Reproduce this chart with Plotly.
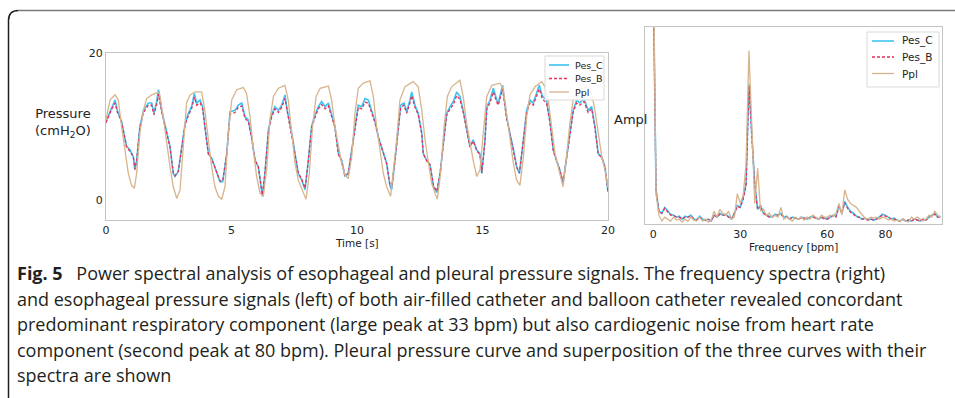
import plotly.graph_objects as go

# ---------------- data: time signals ----------------
pes_t = [0, 0.23, 0.36, 0.45, 0.62, 0.82, 0.96, 1.09, 1.15, 1.22,
         1.35, 1.49, 1.69, 1.82, 1.91, 2.02, 2.09, 2.22, 2.42, 2.55,
         2.68, 2.75, 2.88, 3.01, 3.15, 3.28, 3.41, 3.52, 3.61, 3.75,
         3.85, 3.94, 4.08, 4.21, 4.34, 4.54, 4.65, 4.81, 4.94, 5.14,
         5.27, 5.41, 5.54, 5.67, 5.80, 5.94, 6.07, 6.23, 6.33, 6.47,
         6.60, 6.73, 6.87, 7.00, 7.13, 7.22, 7.40, 7.53, 7.66, 7.80,
         7.93, 8.06, 8.19, 8.33, 8.46, 8.59, 8.73, 8.86, 8.99, 9.12,
         9.26, 9.39, 9.52, 9.65, 9.79, 9.92, 10.05, 10.19, 10.32, 10.45,
         10.58, 10.72, 10.85, 11.05, 11.18, 11.31, 11.38, 11.51, 11.65, 11.74,
         11.87, 11.98, 12.11, 12.18, 12.31, 12.44, 12.58, 12.64, 12.78, 12.91,
         13.05, 13.18, 13.31, 13.44, 13.57, 13.71, 13.84, 13.97, 14.10, 14.23,
         14.37, 14.50, 14.63, 14.77, 14.90, 14.97, 15.10, 15.17, 15.30, 15.43,
         15.57, 15.63, 15.80, 15.96, 16.09, 16.23, 16.36, 16.47, 16.60, 16.76,
         16.89, 17.02, 17.15, 17.26, 17.39, 17.55, 17.68, 17.82, 17.95, 18.08,
         18.21, 18.35, 18.48, 18.61, 18.75, 18.88, 19.04, 19.21, 19.35, 19.48,
         19.61, 19.75, 19.88, 20.0]

pes_c = [10.7, 12.7, 13.6, 12.2, 10.7, 7.3, 6.8, 5.9, 4.1, 5.4,
         10.0, 12.2, 13.2, 13.2, 11.8, 13.4, 15.0, 12.2, 9.1, 7.3,
         3.6, 3.2, 3.9, 6.8, 10.4, 11.8, 12.7, 14.5, 13.2, 13.6,
         12.7, 10.0, 6.3, 5.7, 4.5, 2.5, 2.5, 6.3, 12.0, 12.2,
         12.9, 13.2, 11.3, 10.9, 8.6, 5.4, 4.5, 0.5, 3.6, 9.5,
         11.6, 12.7, 12.2, 12.9, 14.3, 12.2, 9.1, 6.3, 3.6, 2.7,
         1.4, 5.4, 10.0, 11.6, 12.7, 13.4, 12.7, 13.2, 11.6, 10.0,
         6.3, 5.4, 3.2, 3.6, 6.8, 10.2, 12.9, 12.7, 13.8, 13.6,
         12.2, 10.7, 8.6, 6.4, 5.0, 2.0, 1.4, 5.4, 10.0, 12.9,
         13.2, 12.0, 13.6, 14.7, 12.9, 11.8, 9.1, 6.3, 5.4, 4.8,
         1.8, 1.0, 3.6, 7.7, 11.8, 12.7, 13.4, 14.7, 14.1, 12.2,
         9.5, 7.3, 8.2, 6.8, 6.3, 3.6, 8.2, 12.7, 13.6, 15.2,
         13.6, 13.2, 15.6, 11.3, 9.1, 7.0, 4.5, 3.6, 7.3, 12.2,
         13.6, 13.2, 14.5, 15.6, 14.1, 13.6, 10.9, 6.8, 5.4, 4.1,
         2.3, 5.9, 9.5, 12.2, 13.6, 13.2, 13.8, 12.2, 12.7, 10.0,
         6.3, 5.9, 4.5, 1.1]

pes_b = [10.5, 12.4, 13.2, 12.0, 10.6, 7.2, 6.6, 5.8, 4.2, 5.3,
         9.8, 11.9, 12.9, 12.9, 11.6, 13.0, 14.4, 12.0, 9.0, 7.2,
         3.7, 3.3, 3.9, 6.7, 10.2, 11.5, 12.4, 14.0, 12.9, 13.2,
         12.4, 9.9, 6.2, 5.6, 4.5, 2.6, 2.6, 6.2, 11.7, 11.9,
         12.6, 12.8, 11.1, 10.7, 8.5, 5.4, 4.5, 0.7, 3.6, 9.3,
         11.3, 12.4, 11.9, 12.6, 13.8, 12.0, 9.0, 6.3, 3.7, 2.8,
         1.6, 5.3, 9.8, 11.3, 12.4, 13.0, 12.4, 12.8, 11.4, 9.9,
         6.2, 5.3, 3.3, 3.6, 6.7, 10.0, 12.6, 12.4, 13.3, 13.2,
         12.0, 10.5, 8.5, 6.3, 5.0, 2.1, 1.6, 5.3, 9.8, 12.6,
         12.9, 11.8, 13.2, 14.2, 12.6, 11.6, 9.0, 6.3, 5.3, 4.8,
         1.9, 1.2, 3.6, 7.6, 11.5, 12.4, 13.0, 14.2, 13.7, 12.0,
         9.4, 7.2, 8.0, 6.7, 6.2, 3.7, 8.0, 12.4, 13.2, 14.7,
         13.3, 12.9, 15.1, 11.1, 9.0, 6.9, 4.5, 3.7, 7.2, 11.9,
         13.2, 12.9, 14.1, 15.1, 13.7, 13.2, 10.7, 6.7, 5.3, 4.1,
         2.4, 5.8, 9.3, 11.9, 13.2, 12.9, 13.4, 11.9, 12.4, 9.8,
         6.2, 5.8, 4.4, 1.2]

ppl_t = [0, 0.16, 0.36, 0.49, 0.62, 0.76, 0.89, 1.02, 1.13, 1.22,
         1.35, 1.49, 1.62, 1.82, 2.02, 2.12, 2.28, 2.42, 2.55, 2.68,
         2.82, 2.95, 3.08, 3.21, 3.35, 3.55, 3.81, 3.94, 4.08, 4.21,
         4.34, 4.48, 4.61, 4.74, 4.87, 5.01, 5.21, 5.47, 5.60, 5.74,
         5.87, 6.00, 6.14, 6.27, 6.41, 6.53, 6.67, 6.87, 7.13, 7.26,
         7.40, 7.53, 7.66, 7.86, 7.97, 8.10, 8.23, 8.37, 8.53, 8.86,
         8.99, 9.12, 9.26, 9.39, 9.52, 9.65, 9.79, 9.92, 10.05, 10.25,
         10.52, 10.65, 10.78, 10.92, 11.05, 11.18, 11.34, 11.58, 11.71, 11.91,
         12.24, 12.44, 12.58, 12.71, 12.84, 12.97, 13.11, 13.20, 13.33, 13.47,
         13.60, 13.77, 14.10, 14.23, 14.37, 14.50, 14.63, 14.77, 14.90, 15.03,
         15.17, 15.37, 15.70, 15.83, 15.96, 16.09, 16.23, 16.36, 16.49, 16.63,
         16.76, 16.89, 17.09, 17.36, 17.49, 17.62, 17.76, 17.89, 18.08, 18.21,
         18.35, 18.48, 18.61, 18.81, 19.14, 19.35, 19.48, 19.61, 19.75, 19.88,
         20.0]

ppl = [10.9, 13.6, 14.3, 13.6, 10.0, 6.8, 3.6, 2.0, 1.6, 3.6,
       9.1, 12.2, 13.8, 14.3, 14.5, 14.7, 11.3, 7.7, 4.5, 1.8,
       0.2, 1.4, 6.8, 13.2, 14.3, 14.7, 14.7, 12.2, 8.2, 4.5,
       1.8, 0.5, 0.1, 1.8, 9.1, 13.6, 15.0, 15.3, 14.5, 11.3,
       6.8, 3.2, 0.9, 0.5, 4.5, 10.9, 14.1, 15.2, 15.6, 13.6,
       9.1, 5.0, 2.7, 1.1, 0.1, 3.6, 10.0, 14.1, 15.2, 15.5,
       13.6, 10.0, 7.3, 5.0, 3.4, 2.9, 5.9, 11.8, 15.2, 15.9,
       16.2, 14.1, 10.0, 6.3, 3.6, 1.8, 0.5, 8.2, 13.6, 15.4,
       16.1, 15.4, 12.2, 8.2, 5.0, 2.3, 0.9, 0.1, 3.6, 10.0,
       14.1, 15.4, 16.3, 14.1, 10.4, 7.7, 5.4, 3.2, 4.1, 9.1,
       14.1, 15.6, 15.9, 15.0, 11.8, 8.2, 5.0, 2.7, 2.0, 5.9,
       11.3, 14.3, 15.4, 16.1, 15.4, 13.6, 10.0, 6.3, 3.6, 1.8,
       5.9, 10.4, 13.6, 15.0, 15.4, 14.5, 12.2, 9.1, 5.9, 4.1,
       1.8]

# ---------------- data: spectra (arbitrary amplitude) ----------------
freq_bpm = list(range(0, 100))

spec_pes_c = [1.30, 0.17, 0.06, 0.05, 0.08, 0.06, 0.045, 0.04, 0.03, 0.035,
              0.02, 0.035, 0.03, 0.04, 0.02, 0.015, 0.035, 0.02, 0.015, 0.02,
              0.01, 0.04, 0.03, 0.05, 0.04, 0.045, 0.03, 0.02, 0.05, 0.09,
              0.08, 0.13, 0.20, 0.71, 0.45, 0.20, 0.07, 0.09, 0.05, 0.04,
              0.035, 0.03, 0.045, 0.04, 0.05, 0.03, 0.035, 0.02, 0.03, 0.025,
              0.02, 0.03, 0.025, 0.02, 0.03, 0.035, 0.025, 0.02, 0.03, 0.025,
              0.02, 0.03, 0.04, 0.035, 0.09, 0.05, 0.11, 0.08, 0.06, 0.05,
              0.035, 0.03, 0.02, 0.025, 0.015, 0.02, 0.015, 0.02, 0.035, 0.045,
              0.04, 0.03, 0.02, 0.025, 0.015, 0.01, 0.02, 0.01, 0.015, 0.01,
              0.02, 0.015, 0.01, 0.02, 0.015, 0.03, 0.04, 0.05, 0.03, 0.035]

spec_pes_b = [1.30, 0.16, 0.06, 0.05, 0.075, 0.06, 0.04, 0.04, 0.03, 0.03,
              0.02, 0.03, 0.03, 0.035, 0.02, 0.015, 0.03, 0.02, 0.015, 0.02,
              0.01, 0.04, 0.03, 0.045, 0.04, 0.04, 0.03, 0.02, 0.05, 0.085,
              0.08, 0.12, 0.19, 0.70, 0.44, 0.19, 0.07, 0.085, 0.05, 0.04,
              0.03, 0.03, 0.04, 0.04, 0.045, 0.03, 0.03, 0.02, 0.03, 0.025,
              0.02, 0.025, 0.025, 0.02, 0.025, 0.03, 0.025, 0.02, 0.03, 0.02,
              0.02, 0.03, 0.035, 0.03, 0.085, 0.05, 0.105, 0.075, 0.055, 0.045,
              0.03, 0.03, 0.02, 0.02, 0.015, 0.02, 0.015, 0.02, 0.03, 0.04,
              0.035, 0.03, 0.02, 0.02, 0.015, 0.01, 0.02, 0.01, 0.015, 0.01,
              0.02, 0.015, 0.01, 0.02, 0.015, 0.03, 0.035, 0.045, 0.03, 0.03]

spec_ppl = [1.50, 0.15, 0.04, 0.01, 0.03, 0.02, 0.01, 0.03, 0.015, 0.02,
            0.005, 0.02, 0.01, 0.03, 0.015, 0.01, 0.03, 0.01, 0.02, 0.005,
            0.015, 0.06, 0.03, 0.07, 0.05, 0.04, 0.06, 0.02, 0.03, 0.15,
            0.10, 0.14, 0.30, 0.88, 0.50, 0.10, 0.28, 0.06, 0.07, 0.04,
            0.05, 0.03, 0.04, 0.03, 0.08, 0.02, 0.03, 0.02, 0.01, 0.03,
            0.02, 0.03, 0.015, 0.03, 0.02, 0.04, 0.03, 0.02, 0.04, 0.03,
            0.03, 0.04, 0.035, 0.05, 0.10, 0.04, 0.17, 0.12, 0.10, 0.09,
            0.08, 0.06, 0.04, 0.025, 0.02, 0.03, 0.025, 0.03, 0.02, 0.03,
            0.025, 0.015, 0.02, 0.01, 0.015, 0.01, 0.02, 0.01, 0.005, 0.03,
            0.02, 0.03, 0.02, 0.01, 0.02, 0.04, 0.03, 0.06, 0.04, 0.03]

series_names = ["Pes_C", "Pes_B", "Ppl"]
time_ticks = [0, 5, 10, 15, 20]
pressure_ticks = [0, 20]
freq_ticks = [0, 30, 60, 80]

caption_lines = [
    "<b>Fig. 5</b>\u2002 Power spectral analysis of esophageal and pleural pressure signals. The frequency spectra (right)",
    "and esophageal pressure signals (left) of both air-filled catheter and balloon catheter revealed concordant",
    "predominant respiratory component (large peak at 33 bpm) but also cardiogenic noise from heart rate",
    "component (second peak at 80 bpm). Pleural pressure curve and superposition of the three curves with their",
    "spectra are shown",
]

# ---------------- styling ----------------
W, H = 955, 398
C_PESC = "#3ec3f2"
C_PESB = "#e5305a"
C_PPL = "#d8b48e"
AXC = "#c4c4c4"
TXT = "#222222"
MPL_FONT = "DejaVu Sans"
line_styles = [dict(color=C_PESC, width=1.6),
               dict(color=C_PESB, width=1.3, dash="3px,2px"),
               dict(color=C_PPL, width=1.3)]


def px(x):
    return x / W


def py(y):
    return 1 - y / H


fig = go.Figure()

# left panel: time signals
for name, tx, vals, st in zip(series_names, [pes_t, pes_t, ppl_t], [pes_c, pes_b, ppl], line_styles):
    fig.add_trace(go.Scatter(x=tx, y=vals, name=name, mode="lines", line=st,
                             xaxis="x", yaxis="y", showlegend=False))

# right panel: spectra
for name, vals, st in zip(series_names, [spec_pes_c, spec_pes_b, spec_ppl], line_styles):
    fig.add_trace(go.Scatter(x=freq_bpm, y=vals, name=name, mode="lines", line=st,
                             xaxis="x2", yaxis="y2", showlegend=False))

axis_common = dict(showline=True, mirror=True, linecolor=AXC, linewidth=1.3,
                   showgrid=False, zeroline=False, ticks="")
tickfont = dict(family=MPL_FONT, size=11, color=TXT)

fig.update_layout(
    width=W, height=H,
    margin=dict(l=0, r=0, t=0, b=0, autoexpand=False),
    paper_bgcolor="white", plot_bgcolor="white",
    xaxis=dict(domain=[px(106), px(608)], range=[0, 20], tickvals=time_ticks,
               anchor="y", tickfont=tickfont, **axis_common),
    yaxis=dict(domain=[py(220), py(53)], range=[-2.72, 20], tickvals=pressure_ticks,
               anchor="x", tickfont=tickfont, **axis_common),
    xaxis2=dict(domain=[px(645), px(942)], range=[-2.8, 99.5], tickvals=freq_ticks,
                anchor="y2", tickfont=tickfont, **axis_common),
    yaxis2=dict(domain=[py(224), py(27)], range=[-0.005, 1.0], showticklabels=False,
                anchor="x2", **axis_common),
    showlegend=False,
)

annotations = [
    dict(text="Pressure<br>(cmH<sub>2</sub>O)", x=px(63), y=py(123), xref="paper", yref="paper",
         showarrow=False, xanchor="center", yanchor="middle", align="center",
         font=dict(family=MPL_FONT, size=13, color=TXT)),
    dict(text="Ampl", x=px(612), y=py(120), xref="paper", yref="paper",
         showarrow=False, xanchor="left", yanchor="middle",
         font=dict(family=MPL_FONT, size=13, color=TXT)),
    dict(text="Time [s]", x=px(357), y=py(243), xref="paper", yref="paper",
         showarrow=False, xanchor="center", yanchor="middle",
         font=dict(family=MPL_FONT, size=10.5, color=TXT)),
    dict(text="Frequency [bpm]", x=px(793), y=py(247), xref="paper", yref="paper",
         showarrow=False, xanchor="center", yanchor="middle",
         font=dict(family=MPL_FONT, size=10.5, color=TXT)),
]

shapes = []


def add_legend(x0, y0, x1, y1, rows_y, line_x0, line_x1, text_x, fsize):
    shapes.append(dict(type="rect", xref="paper", yref="paper",
                       x0=px(x0), x1=px(x1), y0=py(y1), y1=py(y0),
                       line=dict(color="#d9d9d9", width=1),
                       fillcolor="rgba(255,255,255,0.85)", layer="above"))
    for name, ry, st in zip(series_names, rows_y, line_styles):
        shapes.append(dict(type="line", xref="paper", yref="paper",
                           x0=px(line_x0), x1=px(line_x1), y0=py(ry), y1=py(ry),
                           line=st, layer="above"))
        annotations.append(dict(text=name, x=px(text_x), y=py(ry), xref="paper", yref="paper",
                                showarrow=False, xanchor="left", yanchor="middle",
                                font=dict(family=MPL_FONT, size=fsize, color=TXT)))


add_legend(545, 56, 604, 100, [65, 78.5, 92], 549, 569, 573, 9.5)
add_legend(867, 32, 939, 87, [41, 57, 73.5], 872, 894, 900, 10.5)

cap_base = [279, 304.5, 330, 355.5, 381]
for line, yb in zip(caption_lines, cap_base):
    annotations.append(dict(text=line, x=px(15), y=py(yb - 6), xref="paper", yref="paper",
                            showarrow=False, xanchor="left", yanchor="middle",
                            font=dict(family="Open Sans", size=18, color="#231f20")))

# frame of the figure box (rounded top-left corner)
xl = px(8.5)
yt = py(10.5)
shapes.append(dict(type="path", xref="paper", yref="paper",
                   path=f"M {xl},0 L {xl},{py(20.5)} Q {xl},{yt} {px(18.5)},{yt}",
                   line=dict(color="#1e1e1e", width=1.5)))
shapes.append(dict(type="line", xref="paper", yref="paper", x0=px(18.5), x1=1, y0=yt, y1=yt,
                   line=dict(color="#7a7a7a", width=1.5)))

fig.update_layout(annotations=annotations, shapes=shapes)
fig.write_html("out.html")
